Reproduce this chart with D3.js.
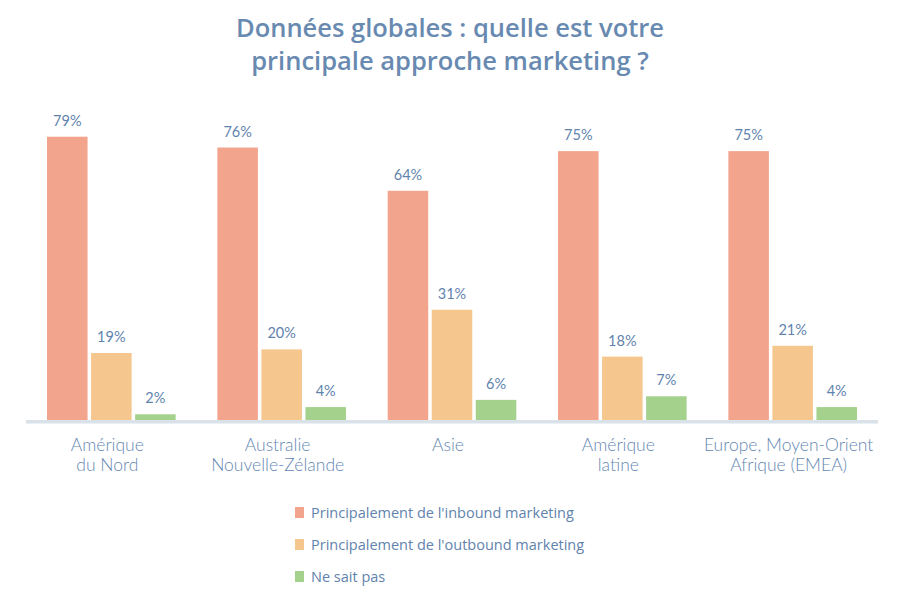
<!DOCTYPE html>
<html>
<head>
<meta charset="utf-8">
<script src="https://cdn.jsdelivr.net/npm/d3@7/dist/d3.min.js"></script>
<style>
  html, body { margin: 0; padding: 0; background: #ffffff; }
  svg { display: block; }
</style>
</head>
<body>
<svg id="chart" width="920" height="599"></svg>
<script>
const categories = [
  ["Amérique", "du Nord"],
  ["Australie", "Nouvelle-Zélande"],
  ["Asie"],
  ["Amérique", "latine"],
  ["Europe, Moyen-Orient", "Afrique (EMEA)"]
];
const categoryKeys = ["AN", "ANZ", "ASIE", "AL", "EMEA"];
const seriesNames = [
  "Principalement de l'inbound marketing",
  "Principalement de l'outbound marketing",
  "Ne sait pas"
];
const inbound  = [79, 76, 64, 75, 75];
const outbound = [19, 20, 31, 18, 21];
const unknown  = [2, 4, 6, 7, 4];
const seriesColors = ["#f3a48c", "#f5c68d", "#a4d18b"];
const titleLines = ["Données globales : quelle est votre", "principale approche marketing ?"];

const seriesValues = [inbound, outbound, unknown];

const svg = d3.select("#chart");
const textColor = "#5f83ad";

// Title
svg.append("g").selectAll("text")
  .data(titleLines)
  .join("text")
  .attr("x", 450)
  .attr("y", (d, i) => 37 + i * 33)
  .attr("text-anchor", "middle")
  .attr("font-family", "'Open Sans', Lato, sans-serif")
  .attr("font-weight", 600)
  .attr("font-size", 25.5)
  .attr("fill", "#6889b0")
  .text(d => d);

// Scales
const x0 = d3.scaleBand()
  .domain(categoryKeys)
  .range([30, 874])
  .paddingInner(0.245)
  .paddingOuter(0.1);

const x1 = d3.scaleBand()
  .domain(d3.range(seriesNames.length))
  .range([0, x0.bandwidth()])
  .paddingInner(0.08);

const y = d3.scaleLinear()
  .domain([0, 100])
  .range([421.5, 61]);

// Bars
const groups = svg.append("g").selectAll("g")
  .data(categoryKeys)
  .join("g")
  .attr("transform", d => `translate(${x0(d)},0)`);

groups.each(function(key, ci) {
  const g = d3.select(this);
  const vals = seriesValues.map((s, si) => ({ si, v: s[ci] }));
  g.selectAll("rect")
    .data(vals)
    .join("rect")
    .attr("x", d => x1(d.si))
    .attr("y", d => y(d.v))
    .attr("width", x1.bandwidth())
    .attr("height", d => y(0) - y(d.v))
    .attr("fill", d => seriesColors[d.si]);
  g.selectAll("text")
    .data(vals)
    .join("text")
    .attr("x", d => x1(d.si) + x1.bandwidth() / 2)
    .attr("y", d => y(d.v) - 11)
    .attr("text-anchor", "middle")
    .attr("font-family", "Lato, 'Open Sans', sans-serif")
    .attr("font-size", 14.5)
    .attr("fill", textColor)
    .text(d => d.v + "%");
});

// Axis baseline
svg.append("rect")
  .attr("x", 26)
  .attr("y", 420)
  .attr("width", 852)
  .attr("height", 3.5)
  .attr("fill", "#dae2e9");

// Category labels
const catG = svg.append("g").selectAll("text")
  .data(categoryKeys)
  .join("text")
  .attr("x", d => x0(d) + x0.bandwidth() / 2 - 4)
  .attr("y", 450.5)
  .attr("text-anchor", "middle")
  .attr("font-family", "Lato, 'Open Sans', sans-serif")
  .attr("font-weight", 300)
  .attr("font-size", 17.5)
  .attr("fill", "#6688b2");
catG.each(function(d, i) {
  d3.select(this).selectAll("tspan")
    .data(categories[i])
    .join("tspan")
    .attr("x", d3.select(this).attr("x"))
    .attr("dy", (t, j) => j === 0 ? 0 : 20)
    .text(t => t);
});

// Legend
const legend = svg.append("g").selectAll("g")
  .data(seriesNames)
  .join("g")
  .attr("transform", (d, i) => `translate(295, ${507 + i * 32})`);
legend.append("rect")
  .attr("width", 9)
  .attr("height", 11)
  .attr("fill", (d, i) => seriesColors[i]);
legend.append("text")
  .attr("x", 16)
  .attr("y", 10.5)
  .attr("font-family", "'Open Sans', sans-serif")
  .attr("font-size", 14.5)
  .attr("fill", textColor)
  .text(d => d);
</script>
</body>
</html>
